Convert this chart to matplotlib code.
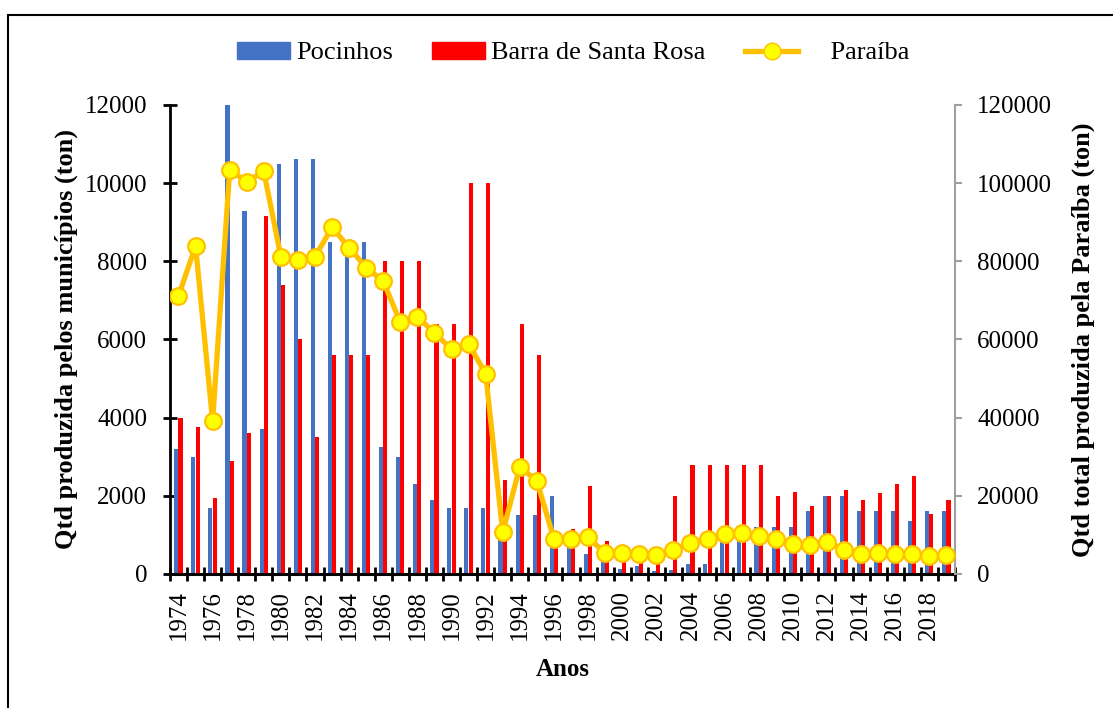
import matplotlib.pyplot as plt
import matplotlib.patches as mpatches
from matplotlib.lines import Line2D
import numpy as np

plt.rcParams['font.family'] = ['Liberation Serif', 'DejaVu Serif']

anos = list(range(1974, 2020))

# Pocinhos (ton)
pocinhos = [3200, 3000, 1700, 12000, 9300, 3700, 10500, 10630, 10630, 8500,
            8500, 8500, 3250, 3000, 2300, 1900, 1700, 1700, 1700, 1200,
            1500, 1500, 2000, 900, 500, 400, 130, 200, 80, 100,
            250, 250, 1050, 1100, 1200, 1200, 1200, 1600, 2000, 2000,
            1600, 1600, 1600, 1350, 1600, 1600]

# Barra de Santa Rosa (ton)
barra = [4000, 3750, 1950, 2900, 3600, 9150, 7400, 6000, 3500, 5600,
         5600, 5600, 8000, 8000, 8000, 6400, 6400, 10000, 10000, 2400,
         6400, 5600, 1100, 1150, 2250, 850, 700, 700, 700, 2000,
         2800, 2800, 2800, 2800, 2800, 2000, 2100, 1750, 2000, 2150,
         1900, 2070, 2300, 2500, 1530, 1900]

# Paraíba total (ton)
paraiba = [71100, 83900, 39100, 103400, 100400, 103000, 81200, 80300, 81200, 88700,
           83500, 78400, 74900, 64400, 65800, 61700, 57500, 58900, 51200, 10700,
           27400, 23800, 9000, 9000, 9400, 5300, 5400, 5000, 4900, 6200,
           8000, 9000, 10300, 10500, 9600, 9000, 7600, 7300, 8300, 6200,
           5000, 5300, 5100, 5000, 4500, 4900]

azul = '#4472C4'
vermelho = '#FF0000'
ouro = '#FFC000'

fig = plt.figure(figsize=(11.13, 7.08), dpi=100)
ax = fig.add_axes([0.1527, 0.1893, 0.7053, 0.6624])
ax2 = ax.twinx()

x = np.arange(len(anos))
ax.bar(x - 0.13, pocinhos, width=0.24, color=azul, zorder=2)
ax.bar(x + 0.12, barra, width=0.24, color=vermelho, zorder=2)

ax2.plot(x, paraiba, color=ouro, lw=3.8, marker='o', markersize=12,
         markerfacecolor='#FFFF00', markeredgecolor=ouro, markeredgewidth=1.6,
         zorder=3)

ax.set_xlim(-0.5, len(anos) - 0.5)
ax.set_ylim(0, 12000)
ax2.set_ylim(0, 120000)
ax.set_yticks(np.arange(0, 12001, 2000))
ax2.set_yticks(np.arange(0, 120001, 20000))

ax.set_xticks(x[::2])
ax.set_xticklabels([str(a) for a in anos[::2]], rotation=90)
ax.set_xticks(np.arange(-0.5, len(anos), 1), minor=True)
ax.tick_params(axis='x', which='major', length=0, pad=11.5, labelsize=18)
ax.tick_params(axis='x', which='minor', direction='inout', length=9.5,
               width=2, color='black')
ax.tick_params(axis='y', direction='inout', length=10, width=2,
               pad=11.5, labelsize=18)
ax2.tick_params(axis='y', direction='out', length=5, width=1.5,
                color='#A0A0A0', pad=11, labelsize=18)

for s in ['top', 'right']:
    ax.spines[s].set_visible(False)
ax.spines['left'].set_linewidth(2)
ax.spines['bottom'].set_linewidth(2.2)
for s in ['top', 'left', 'bottom']:
    ax2.spines[s].set_visible(False)
ax2.spines['right'].set_color('#A0A0A0')
ax2.spines['right'].set_linewidth(1.5)

ax.set_xlabel('Anos', fontsize=18, fontweight='bold', labelpad=13)
ax.set_ylabel('Qtd produzida pelos municípios (ton)', fontsize=19,
              fontweight='bold', labelpad=5)
ax2.set_ylabel('Qtd total produzida pela Paraíba (ton)', fontsize=19,
               fontweight='bold', labelpad=14)

handles = [mpatches.Patch(color=azul, label='Pocinhos'),
           mpatches.Patch(color=vermelho, label='Barra de Santa Rosa'),
           Line2D([0], [0], color=ouro, lw=3.8, marker='o', markersize=12,
                  markerfacecolor='#FFFF00', markeredgecolor=ouro,
                  label='    Paraíba')]
fig.legend(handles=handles, loc='center', bbox_to_anchor=(0.515, 0.925),
           ncol=3, frameon=False, fontsize=19, handlelength=2.0,
           handleheight=0.6, columnspacing=1.5, handletextpad=0.23)

# moldura da area do grafico
fig.patches.append(mpatches.Rectangle((8 / 1113, -0.1), 1.2, 1.1 - 15 / 708,
                                      transform=fig.transFigure, fill=False,
                                      edgecolor='black', lw=1.5))

fig.savefig('out.png', dpi=100)
